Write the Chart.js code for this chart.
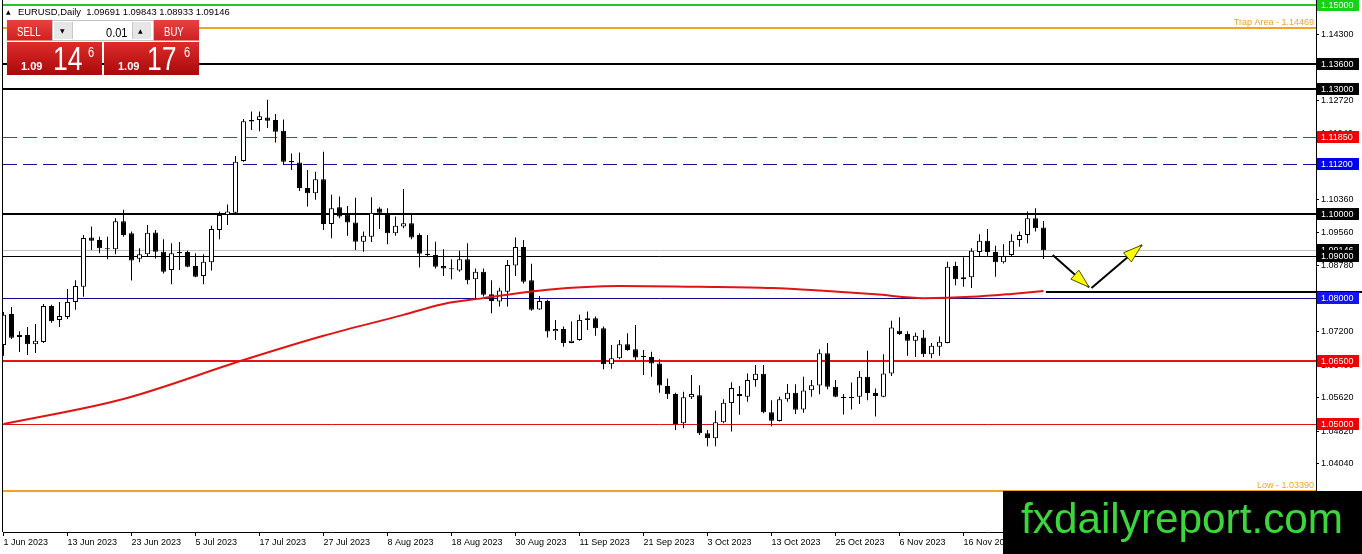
<!DOCTYPE html>
<html>
<head>
<meta charset="utf-8">
<title>EURUSD Daily</title>
<script src="https://cdn.jsdelivr.net/npm/chart.js@4.4.0/dist/chart.umd.min.js"></script>
<style>
    html, body { margin: 0; padding: 0; background: #fff; overflow: hidden; }
    #wrap { position: relative; width: 1362px; height: 554px; }
    #chart { position: absolute; left: 0; top: 0; }
    .abs { position: absolute; white-space: nowrap; line-height: 1; }
    .narrow { font-family: "Liberation Sans", Arial, sans-serif; color: #fff; transform-origin: 0 0; transform: scaleX(0.8); }
    .bold { font-family: "Liberation Sans", Arial, sans-serif; font-weight: bold; color: #fff; }
    .btn { position: absolute; box-sizing: border-box; }
</style>
</head>
<body>
<div id="wrap">
    <canvas id="chart" width="1362" height="554"></canvas>

    <!-- header -->
    <div class="abs" style="left:6px;top:8px;font:6px 'DejaVu Sans',sans-serif;color:#000">▲</div>
    <div class="abs" style="left:18px;top:6px;font:9.4px 'Liberation Sans',Arial,sans-serif;color:#000">EURUSD,Daily&nbsp; 1.09691 1.09843 1.08933 1.09146</div>

    <!-- one click trading panel -->
    <div class="btn" style="left:7px;top:20px;width:45px;height:21px;background:linear-gradient(#e84040,#cf2222);border-bottom:1px solid #ee8080"></div>
    <div class="btn" style="left:154px;top:20px;width:45px;height:21px;background:linear-gradient(#e84040,#cf2222);border-bottom:1px solid #ee8080"></div>
    <div class="btn" style="left:7px;top:42px;width:95px;height:33px;background:linear-gradient(#de2c2c,#a90909)"></div>
    <div class="btn" style="left:104px;top:42px;width:95px;height:33px;background:linear-gradient(#de2c2c,#a90909)"></div>
    <div class="btn" style="left:52px;top:20px;width:102px;height:21px;background:#fff;border:1px solid #c4c4c4"></div>
    <div class="btn" style="left:54px;top:22px;width:19px;height:17px;background:#e6e6e6;border-right:1px solid #c8c8c8"></div>
    <div class="btn" style="left:132px;top:22px;width:19px;height:17px;background:#e6e6e6;border-left:1px solid #c8c8c8"></div>
    <div class="abs" style="left:60px;top:27px;font:6px 'DejaVu Sans',sans-serif;color:#000">▼</div>
    <div class="abs" style="left:138px;top:27px;font:6px 'DejaVu Sans',sans-serif;color:#000">▲</div>
    <div class="abs" style="left:106px;top:25px;font:13px 'Liberation Sans',Arial,sans-serif;color:#000;transform-origin:0 0;transform:scaleX(0.85)">0.01</div>

    <div class="abs narrow" style="left:17px;top:26px;font-size:12px">SELL</div>
    <div class="abs narrow" style="left:164px;top:26px;font-size:12px">BUY</div>

    <div class="abs bold" style="left:21px;top:61px;font-size:11px">1.09</div>
    <div class="abs narrow" style="left:53px;top:41px;font-size:34px;transform:scaleX(0.78)">14</div>
    <div class="abs narrow" style="left:88px;top:45px;font-size:14px">6</div>

    <div class="abs bold" style="left:118px;top:61px;font-size:11px">1.09</div>
    <div class="abs narrow" style="left:147px;top:41px;font-size:34px;transform:scaleX(0.78)">17</div>
    <div class="abs narrow" style="left:184px;top:45px;font-size:14px">6</div>
</div>

<script>
(() => {
    'use strict';

    // ---- data ----
    const dates = ['1 Jun 2023', '13 Jun 2023', '23 Jun 2023', '5 Jul 2023', '17 Jul 2023', '27 Jul 2023',
        '8 Aug 2023', '18 Aug 2023', '30 Aug 2023', '11 Sep 2023', '21 Sep 2023', '3 Oct 2023',
        '13 Oct 2023', '25 Oct 2023', '6 Nov 2023', '16 Nov 2023'];
    const dateIdx = [0, 8, 16, 24, 32, 40, 48, 56, 64, 72, 80, 88, 96, 104, 112, 120];

    const opens = [
        1.0688, 1.0762, 1.0707, 1.0712, 1.0690, 1.0695, 1.0781, 1.0748, 1.0755, 1.0791,
        1.0827, 1.0945, 1.0939, 1.0919, 1.0917, 1.0984, 1.0955, 1.0894, 1.0905, 1.0957,
        1.0911, 1.0867, 1.0910, 1.0910, 1.0877, 1.0853, 1.0886, 1.0963, 1.0999, 1.1004,
        1.1128, 1.1226, 1.1226, 1.1232, 1.1226, 1.1200, 1.1128, 1.1124, 1.1063, 1.1051,
        1.1084, 1.0977, 1.1017, 1.1000, 1.0981, 1.0935, 1.0947, 1.1014, 1.1001, 1.0955,
        1.0971, 1.0979, 1.0951, 1.0906, 1.0903, 1.0877, 1.0871, 1.0866, 1.0893, 1.0845,
        1.0863, 1.0809, 1.0792, 1.0815, 1.0878, 1.0922, 1.0843, 1.0773, 1.0793, 1.0721,
        1.0726, 1.0693, 1.0700, 1.0748, 1.0752, 1.0728, 1.0642, 1.0656, 1.0690, 1.0678,
        1.0660, 1.0659, 1.0644, 1.0590, 1.0571, 1.0501, 1.0563, 1.0568, 1.0477, 1.0465,
        1.0503, 1.0549, 1.0571, 1.0564, 1.0604, 1.0619, 1.0527, 1.0506, 1.0558, 1.0574,
        1.0534, 1.0580, 1.0591, 1.0668, 1.0588, 1.0564, 1.0561, 1.0564, 1.0612, 1.0573,
        1.0564, 1.0620, 1.0722, 1.0714, 1.0698, 1.0706, 1.0666, 1.0684, 1.0693, 1.0877,
        1.0845, 1.0850, 1.0910, 1.0937, 1.0910, 1.0886, 1.0903, 1.0939, 1.0951, 1.0991,
        1.09691];
    const highs = [
        1.0767, 1.0779, 1.0721, 1.0731, 1.0738, 1.0786, 1.0784, 1.0791, 1.0822, 1.0843,
        1.0951, 1.0971, 1.0947, 1.0947, 1.0991, 1.1011, 1.0959, 1.0919, 1.0975, 1.0963,
        1.0941, 1.0931, 1.0934, 1.0913, 1.0907, 1.0905, 1.0973, 1.1007, 1.1024, 1.1140,
        1.1228, 1.1246, 1.1246, 1.1274, 1.1240, 1.1227, 1.1146, 1.1148, 1.1106, 1.1102,
        1.1150, 1.1047, 1.1043, 1.1020, 1.1040, 1.0959, 1.1041, 1.1017, 1.1015, 1.0995,
        1.1061, 1.1003, 1.0955, 1.0951, 1.0935, 1.0917, 1.0893, 1.0913, 1.0931, 1.0871,
        1.0871, 1.0843, 1.0825, 1.0891, 1.0945, 1.0939, 1.0882, 1.0805, 1.0796, 1.0748,
        1.0732, 1.0744, 1.0760, 1.0768, 1.0756, 1.0732, 1.0688, 1.0700, 1.0716, 1.0736,
        1.0676, 1.0672, 1.0654, 1.0608, 1.0574, 1.0576, 1.0616, 1.0592, 1.0485, 1.0531,
        1.0558, 1.0599, 1.0590, 1.0620, 1.0640, 1.0640, 1.0556, 1.0564, 1.0595, 1.0594,
        1.0612, 1.0604, 1.0678, 1.0693, 1.0604, 1.0571, 1.0598, 1.0626, 1.0674, 1.0584,
        1.0666, 1.0746, 1.0754, 1.0721, 1.0717, 1.0724, 1.0693, 1.0708, 1.0887, 1.0887,
        1.0898, 1.0919, 1.0953, 1.0965, 1.0925, 1.0929, 1.0953, 1.0959, 1.1007, 1.1015,
        1.09843];
    const lows = [
        1.0662, 1.0702, 1.0671, 1.0664, 1.0669, 1.0693, 1.0741, 1.0731, 1.0750, 1.0772,
        1.0803, 1.0915, 1.0907, 1.0893, 1.0905, 1.0947, 1.0842, 1.0886, 1.0901, 1.0895,
        1.0859, 1.0833, 1.0867, 1.0874, 1.0850, 1.0833, 1.0866, 1.0941, 1.0975, 1.1001,
        1.1126, 1.1202, 1.1199, 1.1207, 1.1172, 1.1118, 1.1106, 1.1056, 1.1019, 1.1035,
        1.0963, 1.0943, 1.0991, 1.0949, 1.0915, 1.0911, 1.0934, 1.0965, 1.0929, 1.0949,
        1.0967, 1.0941, 1.0873, 1.0898, 1.0871, 1.0853, 1.0845, 1.0863, 1.0833, 1.0797,
        1.0804, 1.0764, 1.0780, 1.0780, 1.0853, 1.0835, 1.0770, 1.0772, 1.0706, 1.0700,
        1.0684, 1.0692, 1.0698, 1.0724, 1.0710, 1.0630, 1.0631, 1.0654, 1.0674, 1.0652,
        1.0616, 1.0612, 1.0574, 1.0559, 1.0485, 1.0489, 1.0559, 1.0473, 1.0446, 1.0446,
        1.0501, 1.0481, 1.0521, 1.0552, 1.0588, 1.0525, 1.0494, 1.0505, 1.0552, 1.0523,
        1.0526, 1.0564, 1.0570, 1.0582, 1.0563, 1.0522, 1.0534, 1.0547, 1.0556, 1.0517,
        1.0563, 1.0614, 1.0712, 1.0662, 1.0659, 1.0659, 1.0656, 1.0662, 1.0692, 1.0831,
        1.0827, 1.0824, 1.0899, 1.0901, 1.0851, 1.0883, 1.0899, 1.0923, 1.0931, 1.0959,
        1.08933];
    const closes = [
        1.0760, 1.0705, 1.0712, 1.0690, 1.0698, 1.0781, 1.0745, 1.0757, 1.0791, 1.0829,
        1.0944, 1.0937, 1.0919, 1.0917, 1.0984, 1.0951, 1.0890, 1.0905, 1.0956, 1.0911,
        1.0863, 1.0907, 1.0907, 1.0875, 1.0851, 1.0887, 1.0965, 1.0999, 1.1007, 1.1126,
        1.1223, 1.1222, 1.1235, 1.1224, 1.1198, 1.1126, 1.1125, 1.1063, 1.1051, 1.1084,
        1.0977, 1.1015, 1.0995, 1.0981, 1.0935, 1.0949, 1.1004, 1.1004, 1.0955, 1.0973,
        1.0979, 1.0945, 1.0906, 1.0903, 1.0875, 1.0871, 1.0869, 1.0893, 1.0843, 1.0863,
        1.0808, 1.0793, 1.0818, 1.0879, 1.0922, 1.0839, 1.0772, 1.0793, 1.0720, 1.0726,
        1.0693, 1.0698, 1.0748, 1.0752, 1.0728, 1.0642, 1.0656, 1.0690, 1.0676, 1.0658,
        1.0659, 1.0644, 1.0591, 1.0570, 1.0499, 1.0563, 1.0571, 1.0477, 1.0465, 1.0503,
        1.0550, 1.0585, 1.0566, 1.0604, 1.0619, 1.0527, 1.0507, 1.0558, 1.0574, 1.0533,
        1.0579, 1.0592, 1.0668, 1.0588, 1.0564, 1.0561, 1.0563, 1.0612, 1.0573, 1.0566,
        1.0620, 1.0730, 1.0714, 1.0698, 1.0710, 1.0666, 1.0686, 1.0696, 1.0875, 1.0845,
        1.0850, 1.0913, 1.0937, 1.0910, 1.0886, 1.0901, 1.0937, 1.0951, 1.0991, 1.0967,
        1.09146];

    // moving average, read at a few bars
    const maIdx = [0, 15, 30, 40, 50, 55, 60, 68, 77, 87, 96, 102, 109, 115, 121, 126, 130];
    const maVals = [1.0499, 1.0559, 1.0652, 1.0710, 1.0760, 1.0786, 1.0800, 1.0820, 1.0829,
        1.0827, 1.0824, 1.0818, 1.0809, 1.0800, 1.0803, 1.0810, 1.0817];

    // hand drawn arrows (bar index / price)
    const arrowDownX = [131.15, 135.7];
    const arrowDownY = [1.0903, 1.0826];
    const arrowUpX = [136.0, 142.3];
    const arrowUpY = [1.0824, 1.0927];

    const priceTicks = [1.14300, 1.13520, 1.12720, 1.11940, 1.11140, 1.10360, 1.09560, 1.08780,
        1.08000, 1.07200, 1.06400, 1.05620, 1.04820, 1.04040];

    const levels = [1.15000, 1.14469, 1.13600, 1.13000, 1.11850, 1.11200, 1.10000, 1.09000,
        1.08000, 1.06500, 1.05000, 1.03390];
    const levelNames = ['', 'Trap Area', '', '', '', '', '', '', '', '', '', 'Low'];
    const bidPrice = 1.09146;
    const supportPrice = 1.0815;
    const supportFrom = 130.3;

    // ---- styles ----
    const FONT = '"Liberation Sans", Arial, sans-serif';
    const levelStyles = [
        { color: '#22c822', width: 2, box: '#14d214' },
        { color: '#f0a424', width: 2 },
        { color: '#000', width: 2, box: '#000' },
        { color: '#000', width: 2, box: '#000' },
        { color: '#d41c1c', width: 1, dash: [14, 6], box: '#f20000' },
        { color: '#1414a0', width: 1, dash: [14, 6], box: '#0000ee' },
        { color: '#000', width: 2, box: '#000' },
        { color: '#000', width: 1, box: '#000' },
        { color: '#0a0a8c', width: 1, box: '#1414f0' },
        { color: '#e81414', width: 2, box: '#f00000' },
        { color: '#d41414', width: 1, box: '#f00000' },
        { color: '#f0a424', width: 2 }
    ];

    const bars = opens.map((o, i) => i);
    const bodies = bars.map(i => ({ x: i, y: [opens[i], closes[i]] }));
    const wicks = bars.map(i => ({ x: i, y: [lows[i], highs[i]] }));
    const bodyColors = bars.map(i => closes[i] > opens[i] ? '#fff' : '#000');
    const ma = maIdx.map((x, k) => ({ x: x, y: maVals[k] }));

    const crispY = (scale, price, width) => {
        const y = Math.round(scale.getPixelForValue(price));
        return width % 2 ? y + 0.5 : y;
    };

    const hline = (ctx, y, x1, x2, color, width, dash) => {
        ctx.save();
        ctx.strokeStyle = color;
        ctx.lineWidth = width;
        ctx.setLineDash(dash || []);
        ctx.beginPath();
        ctx.moveTo(x1, y);
        ctx.lineTo(x2, y);
        ctx.stroke();
        ctx.restore();
    };

    const overlay = {
        id: 'overlay',

        beforeDatasetsDraw(chart) {
            const { ctx, chartArea: a, scales: { y } } = chart;
            ctx.save();
            ctx.beginPath();
            ctx.rect(a.left, a.top, a.right - a.left, a.bottom - a.top);
            ctx.clip();
            hline(ctx, crispY(y, bidPrice, 1), a.left, a.right, '#c0c0c0', 1);
            levels.forEach((p, k) => {
                const st = levelStyles[k];
                hline(ctx, crispY(y, p, st.width), a.left, a.right, st.color, st.width, st.dash);
            });
            ctx.restore();
        },

        afterDatasetsDraw(chart) {
            const ctx = chart.ctx;
            chart.data.datasets.forEach((ds, i) => {
                if (!ds.arrow) return;
                const pts = chart.getDatasetMeta(i).data;
                const p1 = pts[0], p2 = pts[pts.length - 1];
                const ang = Math.atan2(p2.y - p1.y, p2.x - p1.x);
                const len = 19, half = 6;
                const bx = p2.x - len * Math.cos(ang), by = p2.y - len * Math.sin(ang);
                ctx.save();
                ctx.beginPath();
                ctx.moveTo(p2.x, p2.y);
                ctx.lineTo(bx + half * Math.sin(ang), by - half * Math.cos(ang));
                ctx.lineTo(bx - half * Math.sin(ang), by + half * Math.cos(ang));
                ctx.closePath();
                ctx.fillStyle = '#ffff00';
                ctx.fill();
                ctx.strokeStyle = '#4a4a00';
                ctx.lineWidth = 1;
                ctx.stroke();
                ctx.restore();
            });
        },

        afterDraw(chart) {
            const { ctx, chartArea: a, scales: { x, y } } = chart;
            const W = chart.width;

            // left frame line
            ctx.save();
            ctx.strokeStyle = '#000';
            ctx.lineWidth = 1;
            ctx.beginPath();
            ctx.moveTo(2.5, a.top);
            ctx.lineTo(2.5, a.bottom);
            ctx.stroke();
            ctx.restore();

            // support segment after the last bar
            hline(ctx, crispY(y, supportPrice, 2), x.getPixelForValue(supportFrom), W, '#000', 2);

            // texts on the trap / low lines
            ctx.save();
            ctx.font = '9px ' + FONT;
            ctx.textAlign = 'right';
            ctx.textBaseline = 'alphabetic';
            levels.forEach((p, k) => {
                if (!levelNames[k]) return;
                ctx.fillStyle = levelStyles[k].color;
                ctx.fillText(levelNames[k] + ' - ' + p.toFixed(5), a.right - 2, crispY(y, p, 1) - 4);
            });
            ctx.restore();

            // price boxes on the axis
            const box = (price, color) => {
                const py = Math.round(y.getPixelForValue(price));
                ctx.fillStyle = color;
                ctx.fillRect(a.right + 1, py - 6, 42, 12);
                ctx.fillStyle = '#fff';
                ctx.font = '9px ' + FONT;
                ctx.textAlign = 'left';
                ctx.textBaseline = 'middle';
                ctx.fillText(price.toFixed(5), a.right + 5, py + 0.5);
            };
            ctx.save();
            box(bidPrice, '#000');
            levels.forEach((p, k) => {
                if (levelStyles[k].box) box(p, levelStyles[k].box);
            });
            ctx.restore();

            // watermark
            ctx.save();
            ctx.fillStyle = '#000';
            ctx.fillRect(1003, 491, W - 1003, chart.height - 491);
            const txt = 'fxdailyreport.com';
            ctx.font = '100px ' + FONT;
            const size = 100 * 322 / ctx.measureText(txt).width;
            ctx.font = size.toFixed(1) + 'px ' + FONT;
            ctx.fillStyle = '#3cd63c';
            ctx.textAlign = 'left';
            ctx.textBaseline = 'alphabetic';
            ctx.fillText(txt, 1021, 533);
            ctx.restore();
        }
    };

    const tickFont = { family: FONT, size: 9 };

    new Chart(document.getElementById('chart').getContext('2d'), {
        type: 'bar',
        data: {
            datasets: [
                {
                    type: 'line', data: ma, borderColor: '#e01414', borderWidth: 2,
                    pointRadius: 0, cubicInterpolationMode: 'monotone', order: 0
                },
                {
                    type: 'line', arrow: true, data: arrowDownX.map((v, k) => ({ x: v, y: arrowDownY[k] })),
                    borderColor: '#000', borderWidth: 2, pointRadius: 0, order: 0
                },
                {
                    type: 'line', arrow: true, data: arrowUpX.map((v, k) => ({ x: v, y: arrowUpY[k] })),
                    borderColor: '#000', borderWidth: 2, pointRadius: 0, order: 0
                },
                {
                    data: bodies, grouped: false, barThickness: 5, minBarLength: 1,
                    backgroundColor: bodyColors, borderColor: '#000', borderWidth: 1,
                    borderSkipped: false, inflateAmount: 0, order: 1
                },
                {
                    data: wicks, grouped: false, barThickness: 1,
                    backgroundColor: '#000', borderWidth: 0, inflateAmount: 0, order: 2
                }
            ]
        },
        options: {
            responsive: false,
            animation: false,
            devicePixelRatio: 1,
            events: [],
            layout: { padding: { left: 3, right: 0, top: 0, bottom: 0 } },
            plugins: { legend: { display: false }, tooltip: { enabled: false } },
            scales: {
                x: {
                    type: 'linear', min: -0.0625, max: 164.0625, offset: false,
                    afterBuildTicks: s => { s.ticks = dateIdx.map(v => ({ value: v })); },
                    afterFit: s => { s.height = 22; s.paddingLeft = 0; s.paddingRight = 0; },
                    ticks: {
                        callback: (v, i) => dates[i], align: 'start', autoSkip: false,
                        maxRotation: 0, minRotation: 0, padding: 1, color: '#000', font: tickFont
                    },
                    grid: { drawOnChartArea: false, tickLength: 4, color: '#000', offset: false },
                    border: { color: '#000', width: 1 }
                },
                y: {
                    position: 'right', min: 1.02409, max: 1.15127,
                    afterBuildTicks: s => { s.ticks = priceTicks.map(v => ({ value: v })); },
                    afterFit: s => { s.width = 46; s.paddingTop = 0; s.paddingBottom = 0; },
                    ticks: {
                        callback: v => v.toFixed(5), autoSkip: false, padding: 2,
                        color: '#000', font: tickFont
                    },
                    grid: { drawOnChartArea: false, tickLength: 3, color: '#000' },
                    border: { color: '#000', width: 1 }
                }
            }
        },
        plugins: [overlay]
    });
})();
</script>
</body>
</html>
